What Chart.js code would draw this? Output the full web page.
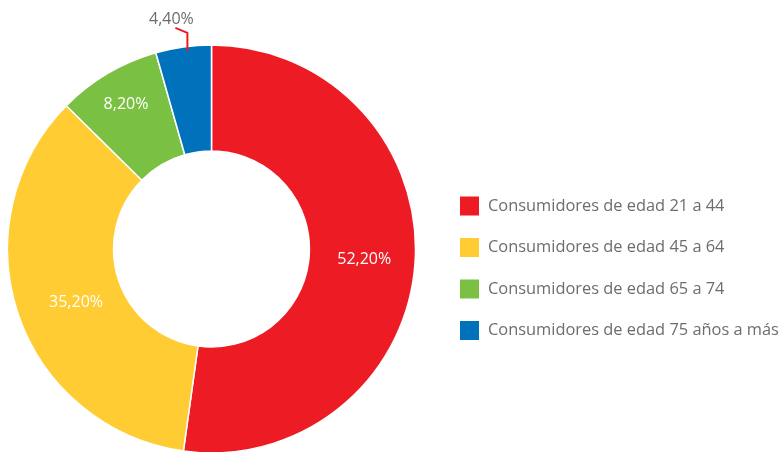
<!DOCTYPE html>
<html>
<head>
<meta charset="utf-8">
<script src="https://cdn.jsdelivr.net/npm/chart.js@4.4.0/dist/chart.umd.min.js"></script>
<style>
  html, body { margin: 0; padding: 0; background: #fff; overflow: hidden; }
  #wrap { width: 783px; height: 452px; }
</style>
</head>
<body>
<div id="wrap"><canvas id="ageChart" width="783" height="452"></canvas></div>
<script>
// Chart data
const categories = [
    'Consumidores de edad 21 a 44',
    'Consumidores de edad 45 a 64',
    'Consumidores de edad 65 a 74',
    'Consumidores de edad 75 años a más'
];
const shares = [52.2, 35.2, 8.2, 4.4];
const sliceColors = ['#ED1C24', '#FFCC33', '#7AC143', '#0072BC'];

const FONT = '"Open Sans", "DejaVu Sans", sans-serif';
const GREY = '#6d6d6d';

function fmt(v) {
    return v.toFixed(2).replace('.', ',') + '%';
}

// labels inside the ring, small slice gets an outside label with a leader
const sliceLabels = {
    id: 'sliceLabels',
    afterDatasetsDraw(chart) {
        const ctx = chart.ctx;
        const arcs = chart.getDatasetMeta(0).data;
        ctx.save();
        ctx.font = '16px ' + FONT;
        ctx.textAlign = 'center';
        ctx.textBaseline = 'middle';
        arcs.forEach((arc, i) => {
            const p = arc.getProps(['x', 'y', 'startAngle', 'endAngle', 'innerRadius', 'outerRadius'], true);
            let mid = (p.startAngle + p.endAngle) / 2;
            const value = chart.data.datasets[0].data[i];
            if (value < 5) {
                // outside label
                const lx = p.x + p.outerRadius * Math.cos(mid) + 4;
                const ly = p.y + p.outerRadius * Math.sin(mid) + 4;
                ctx.strokeStyle = '#ED1C24';
                ctx.lineWidth = 2;
                ctx.beginPath();
                ctx.moveTo(lx, ly);
                ctx.lineTo(lx, ly - 18);
                ctx.lineTo(lx - 12, ly - 23);
                ctx.stroke();
                ctx.fillStyle = GREY;
                ctx.fillText(fmt(value), lx - 16, ly - 32);
            } else {
                let f = 0.52;
                if (value < 10) f = 0.66;
                else if (value < 40) { f = 0.45; mid -= 0.05; }
                const r = p.innerRadius + (p.outerRadius - p.innerRadius) * f;
                ctx.fillStyle = '#ffffff';
                ctx.fillText(fmt(value), p.x + r * Math.cos(mid), p.y + r * Math.sin(mid));
            }
        });
        ctx.restore();
    }
};

// legend on the right side
const sideLegend = {
    id: 'sideLegend',
    afterDraw(chart) {
        const ctx = chart.ctx;
        const ds = chart.data.datasets[0];
        ctx.save();
        ctx.font = '16.4px ' + FONT;
        ctx.textBaseline = 'middle';
        chart.data.labels.forEach((label, i) => {
            const cy = 206 + i * 41.5;
            ctx.fillStyle = ds.backgroundColor[i];
            ctx.fillRect(460, cy - 9.5, 19, 19);
            ctx.fillStyle = GREY;
            ctx.fillText(label, 488, cy);
        });
        ctx.restore();
    }
};

new Chart(document.getElementById('ageChart'), {
    type: 'doughnut',
    data: {
        labels: categories,
        datasets: [{
            data: shares,
            backgroundColor: sliceColors,
            borderColor: '#ffffff',
            borderWidth: 1.5
        }]
    },
    options: {
        responsive: false,
        animation: false,
        devicePixelRatio: 1,
        cutout: '48%',
        radius: 204,
        rotation: 0,
        layout: {
            padding: { left: 0, right: 360, top: 46, bottom: 0 }
        },
        plugins: {
            legend: { display: false },
            tooltip: { enabled: false }
        }
    },
    plugins: [sliceLabels, sideLegend]
});
</script>
</body>
</html>
